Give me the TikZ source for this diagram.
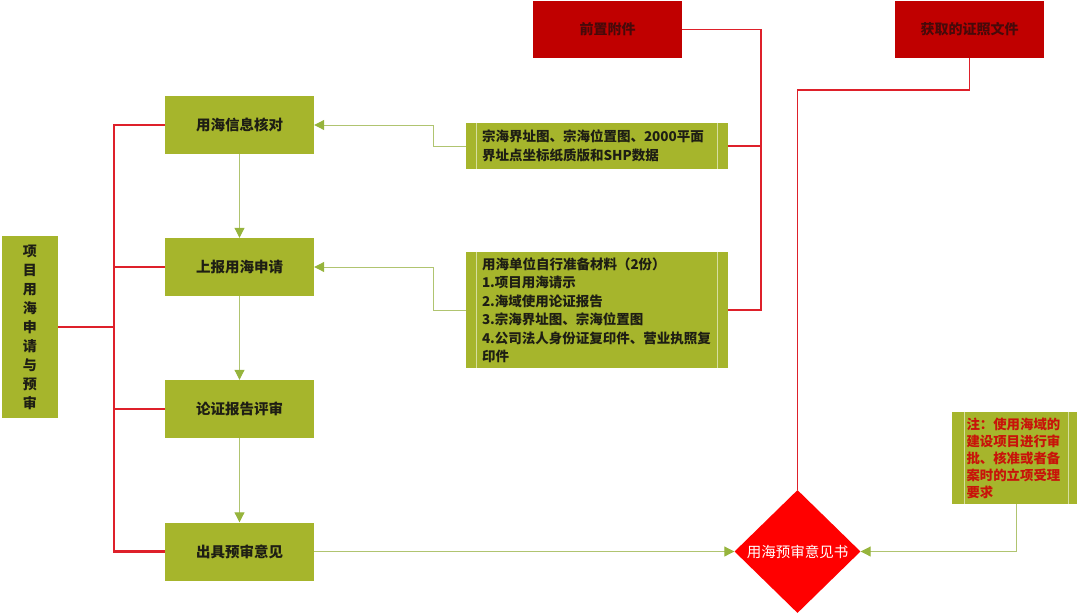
\documentclass[tikz,border=0pt]{standalone}
\usepackage{fontspec}
\setmainfont{Noto Sans CJK SC}
\usetikzlibrary{shapes.geometric,arrows.meta}
\definecolor{boxg}{RGB}{166,181,44}
\definecolor{boxline}{RGB}{214,222,160}
\definecolor{redbox}{RGB}{192,0,0}
\definecolor{diared}{RGB}{255,0,0}
\definecolor{redln}{RGB}{222,32,42}
\definecolor{greenln}{RGB}{176,196,112}
\definecolor{greenhead}{RGB}{150,180,60}
\definecolor{txt}{RGB}{30,30,20}
\definecolor{redtxt}{RGB}{70,10,10}
\definecolor{notetxt}{RGB}{200,20,10}
\begin{document}
\begin{tikzpicture}[x=1pt,y=-1pt,
  gbox/.style={fill=boxg, minimum width=149pt, minimum height=58pt, inner sep=0pt,
    font=\fontsize{14.5}{17}\selectfont\bfseries, text=txt},
  pbox/.style={fill=boxg, inner sep=0pt, align=left,
    font=\fontsize{13.5}{18.5}\selectfont\bfseries, text=txt},
  rbox/.style={fill=redbox, minimum width=149pt, minimum height=57pt, inner sep=0pt,
    font=\fontsize{14}{17}\selectfont\bfseries, text=redtxt},
  redbus/.style={draw=redln, line width=2.2pt},
  redthin/.style={draw=redln, line width=1.3pt},
  garrow/.style={draw=greenln, line width=1pt, -{Triangle[length=10pt,width=10pt,fill=greenhead,color=greenhead]}},
  gline/.style={draw=greenln, line width=1pt},
  inner/.style={draw=boxline, line width=0.8pt}
]
\useasboundingbox (0,0) rectangle (1080,616);

% left box
\node[fill=boxg, minimum width=56pt, minimum height=182pt, inner sep=0pt, align=center,
  font=\fontsize{14}{19}\selectfont\bfseries, text=txt] (L) at (30,327)
  {项\\目\\用\\海\\申\\请\\与\\预\\审};

% main boxes
\node[gbox] (b1) at (239.5,125) {用海信息核对};
\node[gbox] (b2) at (239.5,267) {上报用海申请};
\node[gbox] (b3) at (239.5,409) {论证报告评审};
\node[gbox] (b4) at (239.5,551.5) {出具预审意见};

% material boxes
\node[pbox, minimum width=262pt, minimum height=46pt, text width=230pt] (A) at (597,146)
  {宗海界址图、宗海位置图、2000平面\\界址点坐标纸质版和SHP数据};
\node[pbox, minimum width=262pt, minimum height=116pt, text width=230pt] (B) at (597,310)
  {用海单位自行准备材料（2份）\\1.项目用海请示\\2.海域使用论证报告\\3.宗海界址图、宗海位置图\\4.公司法人身份证复印件、营业执照复\\印件};
\foreach \n in {A,B}{
  \draw[inner] ([xshift=11pt]\n.north west) -- ([xshift=11pt]\n.south west);
  \draw[inner] ([xshift=-11pt]\n.north east) -- ([xshift=-11pt]\n.south east);
}

% red boxes
\node[rbox] (pre) at (607.5,29.5) {前置附件};
\node[rbox] (cert) at (969.5,29.5) {获取的证照文件};

% diamond
\node[diamond, fill=diared, minimum width=126pt, minimum height=123pt, inner sep=0pt,
  font=\fontsize{14.5}{17}\selectfont, text=white] (dia) at (797.5,551.5) {用海预审意见书};

% note box
\node[fill=boxg, minimum width=125pt, minimum height=92pt, inner sep=0pt, text width=96pt,
  align=left, font=\fontsize{13.4}{17}\selectfont\bfseries, text=notetxt] (note) at (1014.5,458)
  {注：使用海域的\\建设项目进行审\\批、核准或者备\\案时的立项受理\\要求};
\draw[inner] ([xshift=13pt]note.north west) -- ([xshift=13pt]note.south west);
\draw[inner] ([xshift=-9pt]note.north east) -- ([xshift=-9pt]note.south east);

% red bus on the left
\coordinate (bus) at (114,327);
\draw[redbus] (L.east) -- (bus);
\draw[redbus] (b1.west) -- (b1.west -| bus) -- (b4.west -| bus) -- (b4.west);
\draw[redthin] (b2.west) -- (b2.west -| bus);
\draw[redbus] (b3.west) -- (b3.west -| bus);

% red line from 前置附件
\coordinate (rv) at (761,0);
\draw[redthin] (pre.east) -- (pre.east -| rv) -- (rv |- B.east) -- (B.east);
\draw[redthin] (A.east) -- (A.east -| rv);

% red line from 获取的证照文件
\coordinate (rh) at (0,90);
\draw[redthin] (cert.south) -- (cert.south |- rh) -- (dia.north |- rh) -- (dia.north);

% green connectors
\coordinate (gx) at (433,0);
\draw[garrow] (A.west) -- (A.west -| gx) |- (b1.east);
\draw[garrow] (B.west) -- (B.west -| gx) |- (b2.east);
\draw[garrow] (b1.south) -- (b2.north);
\draw[garrow] (b2.south) -- (b3.north);
\draw[garrow] (b3.south) -- (b4.north);
\draw[garrow] (b4.east) -- (dia.west);
\draw[garrow] ([xshift=1.5pt]note.south) |- (dia.east);
\end{tikzpicture}
\end{document}
